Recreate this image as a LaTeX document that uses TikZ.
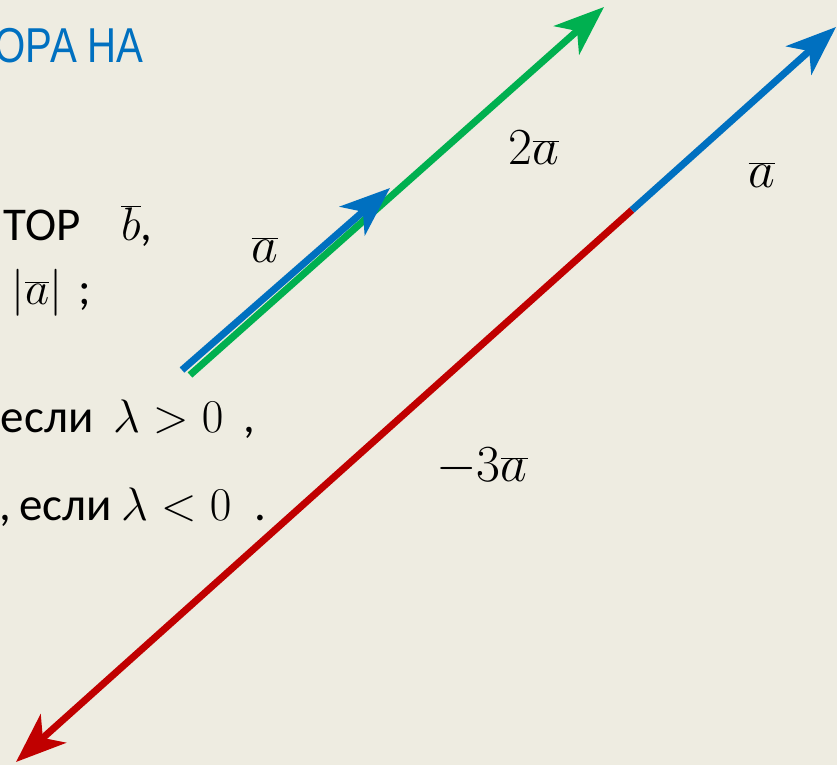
\RequirePackage{fix-cm}
\documentclass[tikz,border=0pt]{standalone}
\usepackage{fontspec}
\setmainfont{Carlito}
\newfontfamily\titlefont{Liberation Sans}
\usetikzlibrary{arrows.meta}
\definecolor{bg}{HTML}{EEECE1}
\definecolor{vblue}{HTML}{0070C0}
\definecolor{vgreen}{HTML}{00B050}
\definecolor{vred}{HTML}{C00000}
\tikzset{
  vec/.style={line width=7pt, -{Stealth[length=50pt,width=38pt,inset=14pt]}},
  body/.style={inner sep=0pt, outer sep=0pt, font=\fontsize{47}{56}\selectfont, text=black},
  lbl/.style={inner sep=0pt, outer sep=0pt, font=\fontsize{52}{60}\selectfont, text=black},
}
\begin{document}
\begin{tikzpicture}[x=1pt,y=-1pt]
\useasboundingbox (0,0) rectangle (837,765);
\clip (0,0) rectangle (837,765);
\fill[bg] (0,0) rectangle (837,765);

% title (cut at left)
\node[inner sep=0pt, anchor=base east, text=vblue, font=\titlefont\fontsize{49}{58}\selectfont] (title) at (144,63) {\scalebox{0.82}[1]{ОРА НА}};

% body text
\node[body, anchor=base east] (t1) at (81,240) {ТОР};
\node[body, anchor=base west] (t1b) at (121,240) {$\overline{b}$,};
\node[body, anchor=base west] (t2) at (12,304) {$|\overline{a}|$};
\node[body, anchor=base west] (t2s) at (78,304) {;};
\node[body, anchor=base west] (t3) at (1,432) {если};
\node[body, anchor=base west] (t3m) at (113,432) {$\lambda > 0$};
\node[body, anchor=base west] (t3c) at (243,432) {,};
\node[body, anchor=base west] (t4c) at (-1,520) {,};
\node[body, anchor=base west] (t4) at (19,520) {если};
\node[body, anchor=base west] (t4m) at (121,520) {$\lambda < 0$};
\node[body, anchor=base west] (t4d) at (254,520) {.};

% vector end points
\coordinate (gs) at (190,375);
\coordinate (ge) at (604,7);
\coordinate (bs) at (182,370);
\coordinate (be) at (390,188);
\coordinate (m) at (632,210);
\coordinate (b2e) at (836,27);
\coordinate (re) at (16,762);

\draw[vec, vgreen] (gs) -- (ge);
\draw[vec, vblue] (bs) -- (be);
\draw[vec, vred] (m) -- (re);
\draw[vec, vblue] (m) -- (b2e);

% labels
\node[lbl] (la1) at (265,250) {$\overline{a}$};
\node[lbl] (la2) at (534,148) {$2\overline{a}$};
\node[lbl] (la3) at (762,175) {$\overline{a}$};
\node[lbl] (la4) at (482,467) {$-3\overline{a}$};
\end{tikzpicture}
\end{document}
